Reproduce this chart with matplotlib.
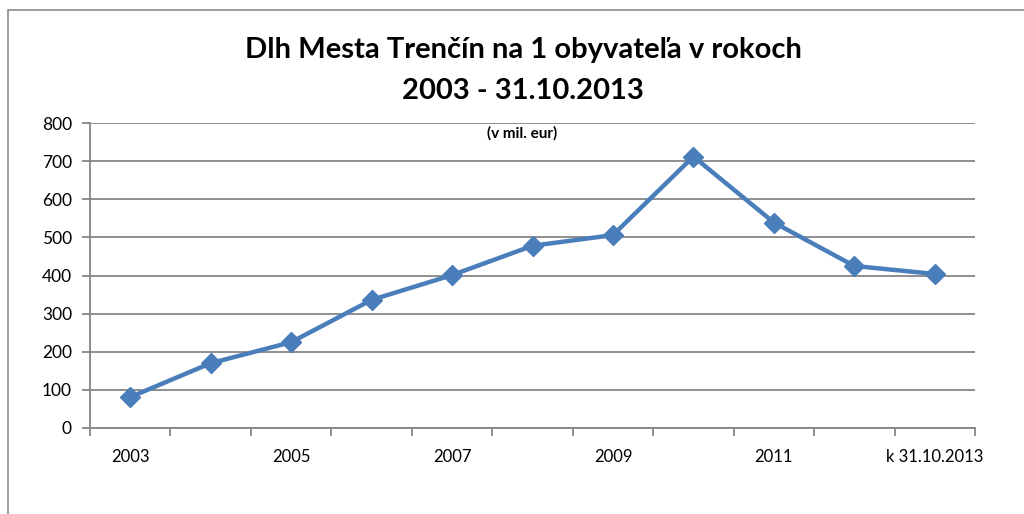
import matplotlib.pyplot as plt
from matplotlib.patches import Rectangle
from matplotlib.ticker import FixedLocator

plt.rcParams['font.family'] = ['Lato', 'DejaVu Sans']

categories = ['2003', '2004', '2005', '2006', '2007', '2008', '2009',
              '2010', '2011', '2012', 'k 31.10.2013']
values = [81, 170, 225, 336, 401, 478, 506, 712, 539, 425, 404]
yticks = [0, 100, 200, 300, 400, 500, 600, 700, 800]

blue = '#4A7EBB'
grid = '#868686'

fig = plt.figure(figsize=(10.24, 5.14), dpi=100)
# chart area frame (cropped on right and bottom)
fig.patches.append(Rectangle((8 / 1024, -0.1), 1.2, (514 - 10) / 514 + 0.1,
                             transform=fig.transFigure, fill=False,
                             edgecolor='#8c8c8c', linewidth=1.2))

ax = fig.add_axes([90 / 1024, 86 / 514, 885 / 1024, 305 / 514])
x = list(range(len(categories)))
ax.plot(x, values, color=blue, linewidth=3.2, marker='D', markersize=10,
        markerfacecolor=blue, markeredgecolor=blue, zorder=3, clip_on=False)

ax.set_xlim(-0.5, len(categories) - 0.5)
ax.set_ylim(0, 800)
ax.set_yticks(yticks)
ax.yaxis.grid(True, color=grid, linewidth=1.3)
ax.set_axisbelow(True)

ax.set_xticks(x[::2])
ax.set_xticklabels(categories[::2])
ax.xaxis.set_minor_locator(FixedLocator([i - 0.5 for i in range(len(categories) + 1)]))
ax.tick_params(axis='x', which='major', length=0, pad=15, labelsize=12)
ax.tick_params(axis='x', which='minor', length=6, width=1.3, color=grid, direction='out')
ax.tick_params(axis='y', length=6, width=1.3, color=grid, labelsize=12.5, pad=7)

for s in ['top', 'right']:
    ax.spines[s].set_visible(False)
for s in ['left', 'bottom']:
    ax.spines[s].set_color(grid)
    ax.spines[s].set_linewidth(1.3)

fig.text(523 / 1024, 1 - 50 / 514, 'Dlh Mesta Trenčín na 1 obyvateľa v rokoch',
         ha='center', va='center', fontsize=21, fontweight='bold')
fig.text(523 / 1024, 1 - 91 / 514, '2003 - 31.10.2013',
         ha='center', va='center', fontsize=21, fontweight='bold')
fig.text(522 / 1024, 1 - 133 / 514, '(v mil. eur)',
         ha='center', va='center', fontsize=11, fontweight='bold')

fig.savefig('out.png', dpi=100)
